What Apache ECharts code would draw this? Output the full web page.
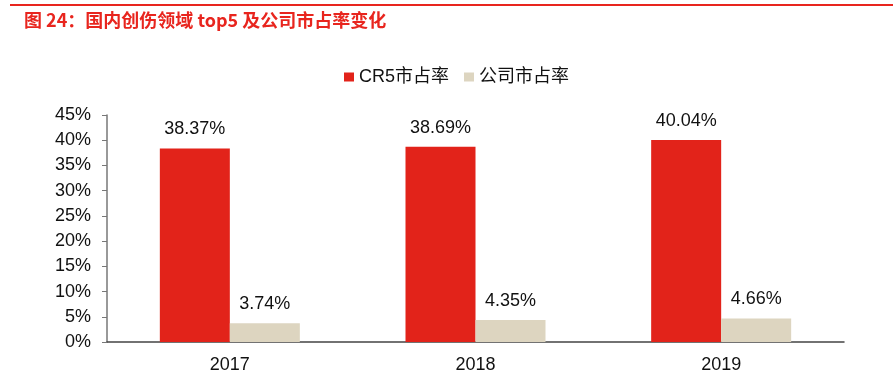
<!DOCTYPE html>
<html><head><meta charset="utf-8">
<script src="https://cdn.jsdelivr.net/npm/echarts@6/dist/echarts.min.js"></script>
<style>html,body{margin:0;padding:0;background:#fff}#c{width:893px;height:380px}</style>
</head><body><div id="c"></div>
<script>
var categories = ['2017', '2018', '2019'];
var cr5Share = [38.37, 38.69, 40.04];
var companyShare = [3.74, 4.35, 4.66];
var seriesNames = ['CR5市占率', '公司市占率'];
var yTicks = [0, 5, 10, 15, 20, 25, 30, 35, 40, 45];
var titleText = '图 24：国内创伤领域 top5 及公司市占率变化';

var chart = echarts.init(document.getElementById('c'));
var font = 'Arial, "Liberation Sans", "Noto Sans CJK SC", sans-serif';
var lbl = {show: true, position: 'top', distance: 10, color: '#111', fontSize: 18, fontFamily: font,
  formatter: function (p) { return p.value.toFixed(2) + '%'; }};
chart.setOption({
  animation: false,
  graphic: [
    {type: 'rect', shape: {x: 10, y: 4, width: 883, height: 2}, style: {fill: '#E8251E'}},
    {type: 'text', left: 24, top: 11, style: {text: titleText, fill: '#E8251E', font: 'bold 18px "Noto Sans CJK SC", sans-serif'}}
  ],
  legend: {
    top: 63, left: 339, itemWidth: 10, itemHeight: 9, itemGap: 15,
    icon: 'rect',
    textStyle: {fontSize: 18, color: '#111', fontFamily: font},
    data: seriesNames
  },
  grid: {left: 107, right: 49, top: 115, bottom: 38},
  xAxis: {
    type: 'category', data: categories,
    axisLine: {lineStyle: {color: '#444', width: 1.5}},
    axisTick: {show: false},
    axisLabel: {color: '#111', fontSize: 18, fontFamily: font, margin: 14}
  },
  yAxis: {
    type: 'value', min: yTicks[0], max: yTicks[yTicks.length - 1], interval: 5,
    axisLine: {show: true, lineStyle: {color: '#777', width: 1.5}},
    axisTick: {show: true, length: 5, lineStyle: {color: '#777'}},
    splitLine: {show: false},
    axisLabel: {color: '#111', fontSize: 18, fontFamily: font, margin: 16, formatter: '{value}%'}
  },
  series: [
    {name: seriesNames[0], type: 'bar', data: cr5Share, barWidth: 70, barGap: '0%',
      itemStyle: {color: '#E2231A'}, label: lbl},
    {name: seriesNames[1], type: 'bar', data: companyShare, barWidth: 70,
      itemStyle: {color: '#DDD5C0'}, label: lbl}
  ]
});
</script></body></html>
